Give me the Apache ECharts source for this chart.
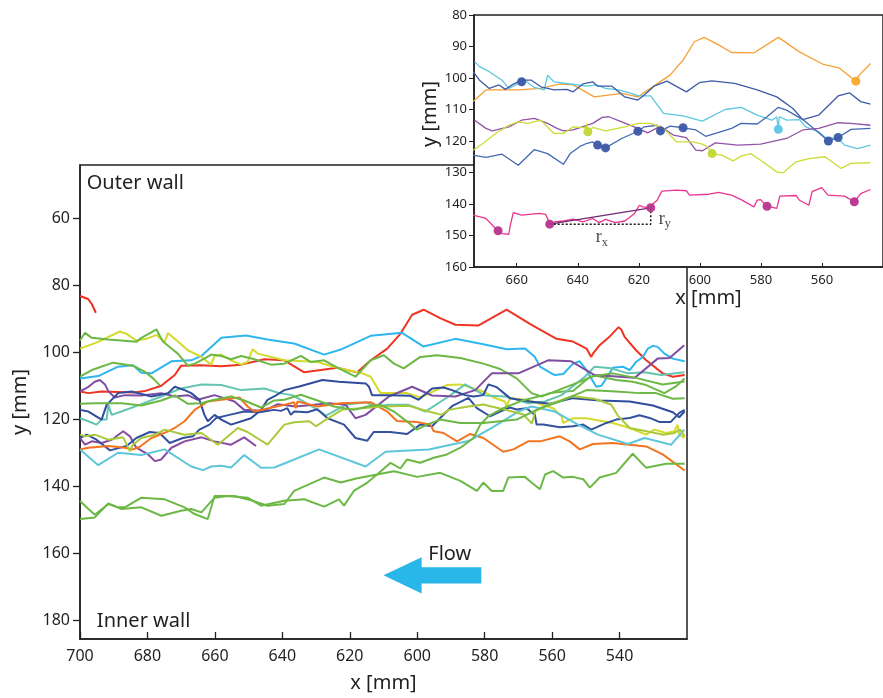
<!DOCTYPE html>
<html>
<head>
<meta charset="utf-8">
<script src="https://cdn.jsdelivr.net/npm/echarts@6/dist/echarts.min.js"></script>
<style>
  html, body { margin: 0; padding: 0; background: #fff; }
  #chart { width: 883px; height: 698px; }
</style>
</head>
<body>
<div id="chart"></div>
<script>
// ---- tick labels ----
const mainXTicks = [700, 680, 660, 640, 620, 600, 580, 560, 540];
const mainYTicks = [60, 80, 100, 120, 140, 160, 180];
const insetXTicks = [660, 640, 620, 600, 580, 560];
const insetYTicks = [80, 90, 100, 110, 120, 130, 140, 150, 160];

// ---- main panel: trajectories, [x mm, y mm] ----
const redShort = [[700,83.1],[697.6,84],[696.5,85.5],[695.3,88.1]];
const redLong = [[700,111.6],[697.5,112.1],[693.6,111.6],[683.8,111.9],[680.8,111.5],[675.9,109.9],[671.9,106.7],[670,103.9],[664,103.8],[658.1,104.1],[652.2,103.6],[645.3,102],[639.4,102.3],[633.5,105.9],[623.7,104.5],[617.8,105.9],[613.8,102.3],[608.9,98.8],[605,94.4],[601.5,88.7],[598.1,87.2],[593.2,89.7],[588.7,91.7],[581.8,91.9],[573.5,87.2],[566.6,91.4],[558.7,95.9],[553.8,96.7],[549.8,98.8],[548.4,101.3],[547.9,100.3],[545.9,97.8],[543,95.3],[540.3,92.4],[539.5,93.1],[538.5,95.3],[535.1,99.3],[532.1,102.3],[527.2,106.2],[524.2,107.2],[520.7,106.7]];
const skyBlue = [[700,107.7],[694.6,107],[688.7,104.2],[684.3,103.8],[681.8,106],[678.8,106.2],[672.9,102.6],[667,102.3],[664,101],[658.1,95.6],[650.8,94.9],[644.4,96.1],[636.5,97.3],[627.6,100.6],[622.7,99.1],[613.8,95],[604.5,94.1],[598.1,98.2],[588.7,95.9],[580.4,97.5],[573.5,99],[568,98.8],[565.1,101.3],[563.6,104.2],[560.7,105.9],[559.2,106.7],[556.7,106.4],[553.8,103.3],[551.8,102.6],[549.8,105.2],[548.4,107.7],[546.9,110.2],[545.4,109.9],[543.9,107.7],[542,104.5],[539,104.2],[537,105.2],[535.1,102.8],[533.1,101.3],[531.6,98.8],[530.1,98],[528.7,98.3],[526.7,100.3],[524.2,101.8],[520.7,102.6]];
const yellow = [[700,98.8],[694.6,96.8],[688.2,93.7],[686.2,94.4],[683.3,96.4],[680.3,95.9],[677.3,94.7],[676.4,95.6],[674.9,96.8],[673.9,94.2],[671.9,95.9],[668,99.3],[664,101.3],[661.1,103.6],[660.1,101],[658.1,100.6],[655.2,102.3],[652.2,103.6],[650.3,102.8],[648.8,99],[647.3,100.3],[639.4,102.3],[629.6,102.8],[623.2,104.7],[616.8,106],[613.8,107.2],[610.9,112.1],[603,112.1],[599.1,113.4],[591.2,109.7],[587.2,109.5],[580.4,111.6],[577.4,113.4],[574,114.6],[573.5,116.1],[572.5,113.6],[567.6,114.1],[559.7,116.6],[557.2,119],[556.7,121],[553.8,119.6],[549.8,119.6],[542,121],[537,122.5],[532.1,124.5],[529.7,123],[526.2,124],[523.7,123.5],[522.8,121.5],[522.3,124.5],[520.7,125.5]];
const greenUpper = [[700,96.4],[698.5,94.1],[696.5,95.6],[691.6,96.1],[683.3,96.8],[681.8,95.6],[677.3,93.1],[676.4,94.9],[675.4,96.7],[672.9,98.8],[671,100.3],[668,103.9],[666,103.3],[663.1,101.8],[661.1,100.6],[658.1,101],[655.2,102],[652.2,101],[648.3,102],[643.4,103.6],[639.4,103.3],[634.5,101],[631.6,102.8],[627.6,102.3],[623.7,104.5],[618.3,107.2],[613.8,102.3],[609.9,100.8],[606.9,103.3],[604,104.7],[599.1,101.3],[594.1,100.8],[587.2,101.6],[580.4,103.3],[575.4,104.9],[570.5,107.7],[566.1,112.1],[563.1,113.1],[560.7,112.1],[556.7,111.6],[553.8,111.5],[548.8,107.2],[546.9,106.9],[541,108.2],[536.1,108.7],[532.1,109.7],[526.7,112.1],[523.3,110.1],[520.7,107.7]];
const greenShort = [[700,107.2],[696.5,105.2],[690.2,103],[684.3,103.9],[680.8,105.7],[678.3,107.7],[676.4,109.7]];
const teal = [[700,119.6],[697.5,120.5],[695.1,121.5],[693.6,120],[692.1,120],[691.6,115.6],[690.6,118.6],[687.7,117.6],[681.8,115.4],[675.9,113.1],[670,110.7],[664,109.5],[658.1,109.7],[652.2,111.2],[645.3,110.7],[640.9,112.1],[637,112.7],[631.1,116.1],[627.1,118.8],[621.2,115.6],[615.3,114.8],[612.4,116.1],[608.4,115.6],[602.5,115.6],[597.6,117.6],[590.7,113.1],[585.8,109.5],[582.8,111.2],[579.9,112.8],[574,113.1],[572,113.6],[567.1,115.1],[562.2,114.6],[557.2,112.7],[550.3,107.2],[547.4,104.2],[542.5,104.7],[537.5,106.2],[532.6,105.9],[527.7,106.7],[520.8,105.9]];
const purpleUpper = [[700,111.6],[697.5,110.2],[695.6,108.7],[694.1,108.2],[692.6,109.5],[691.6,111.5],[689.7,113.4],[686.7,112.7],[681.8,112.8],[675.9,112.1],[671.9,113.1],[668,112.7],[665.1,114.1],[660.1,112.7],[654.2,114.6],[651.3,117.1],[645.3,117.4],[641.4,115.4],[636,116.1],[626.1,115.1],[621.2,115.6],[618.3,119.6],[615.3,118.6],[608.4,113.1],[601.5,110.2],[595.6,112.8],[588.7,113.1],[582.8,111.2],[577.9,106.2],[570,106.2],[561.2,102.3],[554.3,102.6],[547.4,106.7],[535.5,107.5],[528.7,101.8],[525.2,101.6],[520.8,97.8]];
const purpleLower = [[700,125.5],[698.5,127.5],[696.5,126.5],[693.6,127],[690.6,126],[687.2,123.5],[685.2,125],[683.3,128.4],[679.8,130.4],[677.8,132.4],[675.9,131.9],[672.9,128.4],[669,126.5],[664,125.3],[660.1,126.5],[655.2,127.5],[651.3,125.3],[647.8,127.9]];
const navyUpper = [[700,117.1],[697.5,117.6],[693.6,120],[692.1,115.6],[688.7,112.1],[684.7,111.6],[678.8,113.1],[673.9,112.1],[671.9,110.2],[669,111.2],[667,112.1],[664.6,114.1],[663.1,118.6],[662.1,120.5],[660.1,118.6],[658.1,120],[655.2,121.5],[649.3,119.6],[646.3,117.1],[644.4,114.1],[642.4,113.1],[639.4,111.2],[635,110.1],[628.1,108.2],[623.2,108.7],[615.3,109.2],[614.3,110.2],[613.4,112.7],[608.4,112.7],[602,112.9],[599.6,114.1],[595.6,110.7],[592.2,110.4],[589.7,111.2],[585.8,112.7],[583.3,113.1],[580.4,112.7],[578.9,109.5],[576.5,110.3],[572.5,113.6],[566.6,114.6],[560.7,115.3],[553.8,113.6],[545.9,114.3],[537,114.6],[530.1,115.8],[524.2,117.8],[522.3,119.3],[520.7,117.5]];
const navyLower = [[700,125.5],[698,124.5],[695.1,126],[691.1,129.2],[686.2,127.9],[683.3,125.5],[679.3,123.7],[676.4,124],[673.4,127],[669.5,125.5],[666.5,125],[664.6,123],[661.6,121.5],[659.6,119.5],[655.7,118.6],[651.3,117.6],[646.8,117.8],[642.4,117.1],[640.4,117.4],[638.5,116.6],[637.5,118.6],[636.5,117.6],[632.6,117.8],[629.6,116.9],[626.6,119.6],[621.7,121.5],[618.3,125.5],[614.8,126.3],[612.9,123.7],[608,123.7],[603,124.3],[599.1,121.5],[595.6,122],[589.7,116],[584.8,113.5],[582.3,116.6],[578.4,119],[575.4,117.6],[572.5,116.4],[570.5,117],[567.6,116.6],[565.1,118.6],[564.6,121.5],[562.6,121.5],[557.7,122.3],[553.8,122],[550.8,121.5],[548.4,123],[543.9,121],[541,120],[537,119.5],[534.1,118.7],[531.1,119.5],[528.2,120.7],[524.8,120.7],[522.3,118],[520.7,117.1]];
const orange = [[700,128.9],[697.5,128.4],[691.6,127.9],[686.7,128.4],[684.3,128.9],[682.3,128.1],[678.8,125.5],[673.9,123.5],[671.9,122.5],[669,120.5],[666,117.1],[662.1,114.6],[658.1,114.1],[652.7,113.4],[650.3,116.1],[648.3,117.6],[639.4,115.6],[636.5,114.8],[636,116.6],[635.5,114.6],[629.6,116.1],[622.7,115.1],[613.8,114.8],[608.9,117.6],[606,120.4],[600.1,120.7],[596.1,121.5],[595.1,123.5],[592.2,124],[588.2,126.5],[584.3,124.3],[580.4,125.5],[574.5,129.6],[571.5,128.9],[567.1,126.5],[563.6,126.5],[557.7,125],[554.8,126.5],[551.8,128.9],[547.9,127.3],[542,127],[532.1,128],[527.2,130.4],[520.7,135.2]];
const paleCyan = [[700,128.9],[694.6,133.6],[688.7,129.9],[681.8,130.6],[674.9,128.9],[667,134],[663.5,135.1],[661.1,134],[658.1,133.8],[655.2,134.3],[651.3,130.6],[646.3,134.4],[642.4,134.3],[639.4,133.1],[629.1,128.9],[615.3,134],[609.4,129.6],[596.6,128.9],[584.8,126.4],[577.9,122.5],[570,117.6],[566.1,116.1],[559.2,117.6],[552.3,121.5],[546.4,124.5],[537.5,127.3],[532.6,125.5],[524.7,127.5],[520.8,123]];
const lime = [[700,124.5],[698.5,125],[695.6,124.5],[691.6,126],[687.2,125.3],[685.2,129.4],[684.3,127.5],[681.8,125.5],[677.8,124.5],[674.9,123],[669,124.5],[664,124],[659.1,127.5],[653.2,122.5],[650.3,123.7],[644.4,127.5],[639.4,121.5],[636.5,120.8],[632,120.5],[630,122],[627.1,120],[622.2,117],[616.3,116.6],[610.4,116.1],[602.5,115.9],[596.6,117.6],[592.7,118.6],[590.7,117.1],[584.8,116.1],[580.4,115.5],[573,117.3],[568.5,118.5],[566,121.2],[565,117.5],[561,115.5],[554,113],[547.5,113.8],[542.5,115.5],[540.5,118.8],[537,122.5],[532,123.5],[527,124.5],[523.7,124],[522,123],[520.7,125]];
const greenMid = [[700,115.3],[695.6,115.1],[687.7,115.1],[681.8,115.8],[675.9,114.3],[671.9,112.8],[668,115.3],[664,115.1],[661.1,114.3],[655.2,113.1],[651.3,114.3],[646.3,116.4],[642.4,114.3],[639.4,114.1],[634.5,112.6],[629.6,114.3],[624.7,116.1],[618.8,117.1],[614.8,116.1],[610.9,115.6],[606.9,117.6],[603,120.6],[600.1,123],[597.1,121.5],[593.2,120],[587.2,121],[580.4,121],[570.5,120],[563.6,116.6],[557.7,114.6],[549.8,111.2],[541,111.6],[534.1,112.1],[529.2,112.1],[524.2,113.8],[520.7,113.6]];
const greenLowA = [[700,144.3],[697.5,146.7],[695.6,148.4],[691.6,145.2],[688.7,146.2],[686.7,146.2],[681.8,143.3],[674.9,143.8],[669,146.2],[666,148.2],[662.1,149.7],[660.1,142.8],[654.2,142.8],[649.3,144.1],[644.4,145.7],[639.4,145.2],[636.5,141.3],[627.6,137.3],[622.7,138.8],[617.8,137.5],[611.9,136.4],[606.9,135.4],[600,137.1],[593.2,135.9],[587.2,138.3],[582.3,141.3],[580.4,138.8],[577.9,141.3],[574.5,141.3],[573,137.3],[568.1,137.1],[566.1,138.8],[563.6,140.8],[562.1,136.4],[559.7,135.4],[556.7,137.3],[553.8,137.1],[550.8,137.8],[548.8,140.3],[545.9,137.3],[541,135.9],[536.1,130.2],[532.1,134.4],[526.2,133.2],[520.7,133.2]];
const greenLowB = [[700,149.7],[695.6,149.2],[691.6,145],[687.7,146.7],[681.8,146.2],[675.9,148.7],[670,147.2],[667,146.7],[664,147.7],[660.1,143.3],[656.2,142.8],[650.3,143.3],[646.3,145.7],[639.4,144.2],[633.5,143.8],[627.6,146],[623.2,143.8],[621.7,145.7],[618.8,141.3],[614.8,138.8],[611.9,136.4],[607.9,132.9],[605,134.6],[603,131.9],[599.1,132.9],[595.1,131.4],[591.2,130.4],[587.2,128.4],[583.3,125.5],[581.3,121.5],[578.9,119],[574.5,116.6],[568.5,114.2],[561.2,112.4],[553.8,109.5],[547.9,107.1],[542,106.2],[534.6,107.7],[527.2,109.5],[520.7,108.6]];

// ---- inset panel: trajectories and particle positions ----
const insetOrange = [[674.3,107.5],[670.1,103.8],[659.5,103.8],[652.1,103.3],[645.7,101.9],[641.5,102.2],[634.6,106],[625.6,104.9],[620.3,106],[615,102.5],[609.7,99],[605.5,94.3],[601.8,88.5],[598.6,87.1],[593.9,89.5],[589.6,91.9],[582.2,92],[574.3,87.1],[567.4,91.7],[559.5,95.7],[554.2,96.9],[548.9,101],[547.8,99.1],[544.1,95.4]];
const insetCyan = [[673.8,94.8],[672.2,96.4],[669,98],[664.8,100.7],[662.6,103.3],[661.6,102.8],[657.4,100.7],[654.2,103],[651,103.8],[649.9,99.1],[647.8,101.2],[642.5,101.9],[637.2,102.6],[634,102.2],[630.9,103.3],[626.7,103.8],[622.4,104.9],[620.3,105.7],[616.1,105.7],[611.9,111.2],[605.5,112],[599.2,113.7],[591.7,110],[586.5,109.3],[581.2,111.8],[576.4,113.4],[574.8,112.3],[574.3,116.3],[574,112.3],[571.6,113.4],[567.4,113.2],[565.3,115.5],[561.1,117.1],[558.9,118.9],[554.7,119.2],[552.6,121.3],[548.4,122.4],[544.1,121.3]];
const insetNavyA = [[674.3,98],[672.2,100.7],[669,103.3],[665.8,102.2],[663.7,103.6],[661.6,102.2],[658.4,100.7],[655.2,100.7],[652.1,102.8],[647.8,103.8],[643.6,103.6],[641.5,104.4],[638.3,101.9],[635.1,101.2],[633.5,102.6],[628.8,102.6],[624.6,106],[620.3,107],[618.2,105.4],[615,102.6],[610.8,101],[604.4,104.4],[600.2,101.5],[596,100.9],[588.6,101.7],[581.2,103.8],[574.8,106],[569.5,109.7],[566.3,113.2],[561.1,111.8],[554.7,105.7],[551,104.7],[547.3,107.5],[544.1,108.3]];
const insetNavyB = [[674.3,124.5],[670.1,125.2],[664.8,124.2],[659.5,127.7],[654.2,122.7],[649.9,124],[644.7,127.4],[642.5,124],[639.4,121.8],[637.2,120.8],[635.1,120.3],[633.5,121.3],[630.9,122.2],[625.6,119.2],[620.3,116.9],[618.2,115.5],[614,115],[612.9,116.8],[609.7,115.3],[605.5,115.8],[601.3,116.5],[598.1,118.5],[594.9,117.6],[589.6,116],[586.5,114.4],[581.2,114.6],[578,112.3],[574.3,109.3],[571.6,110.2],[566.3,113.2],[562.1,116.5],[557.9,120],[554.7,118.9],[550.5,116.3],[544.1,116]];
const insetPurple = [[673.8,113.4],[670.1,116],[668,116.8],[662.6,115.5],[658.4,113.4],[654.2,112.8],[649.9,114.4],[646.8,116],[644.7,116.8],[641.5,116.5],[635.1,114.4],[632,112.5],[629.8,112.3],[625.6,113.9],[620.3,116],[617.1,117.4],[612.9,115.3],[608.7,118.1],[604.4,118.9],[601.3,122.9],[599.2,123.1],[594.9,120.6],[587.5,121.3],[580.1,121],[571.6,119.2],[566.3,116.5],[561.1,116],[554.7,114.2],[550.5,114.4],[544.1,115]];
const insetYellow = [[674.3,122.9],[671.1,120.8],[666.9,117.6],[662.6,115],[659.5,113.9],[656.3,114.4],[652.1,113.4],[647.8,117.6],[644.7,117.6],[641.5,115.5],[637.2,115.8],[637,114.4],[636.7,117.1],[635.1,115.7],[630.9,116.8],[624.6,115.5],[620.3,114.4],[616.1,114.4],[611.9,116],[607.6,120.3],[602.3,120.3],[599.2,121],[597.6,121.8],[596,124],[592.8,124.5],[589.1,126.3],[586.5,124.8],[583.3,124],[580.1,126.1],[574.8,129.8],[572.7,130.1],[568.5,126.6],[564.3,125.6],[559,125],[553.7,128.7],[550.5,127.1],[544.1,126.9]];
const insetPink = [[674.3,143.5],[670.1,144.6],[667.4,147.3],[666.1,148.5],[664.8,149.4],[662.6,149.6],[662.1,146.7],[661.1,142.7],[658.4,143.5],[652.6,143],[650.5,143.3],[649.4,145.7],[649.2,146.4],[647.8,145.7],[644.7,145.4],[641.5,144.8],[638.3,145.7],[635.1,144.6],[633,145.9],[630.9,144.9],[627.7,145.9],[624.6,145.4],[621.4,143],[619.8,140.4],[618.7,140.9],[616.1,141.2],[615.5,140.1],[614,138.8],[612.9,136.7],[612.4,135.9],[607.6,135.6],[604.4,135.8],[603.4,137.2],[597,136.9],[593.9,136.3],[589.6,137.2],[586.5,138.6],[582.3,140.9],[581.2,138.8],[580.1,138.6],[578,140.7],[574.8,141.4],[573.8,137.5],[568.5,137.3],[567.4,138.8],[564.3,140.4],[563.2,136.1],[560.1,134.8],[558,137.2],[552.6,137.5],[549.4,139.3],[547.3,136.7],[544.1,135.4]];

const navyDots = [[658.4,101.2],[633.5,121.3],[630.9,122.2],[620.3,116.9],[612.9,116.8],[605.5,115.8],[557.9,120],[554.7,118.9]];
const yellowDots = [[636.7,117.1],[596,124]];
const cyanDots = [[574.3,116.3]];
const orangeDots = [[548.9,101]];
const pinkDots = [[666.1,148.5],[649.2,146.4],[616.1,141.2],[578,140.7],[549.4,139.3]];

// flow arrow, in main-panel mm
const flowArrow = { tail: 581, head: 610, neck: 598.7, y: 166.5, shaft: 2.4, barb: 5.4 };

const FONT = "'Noto Sans', 'Open Sans', sans-serif";
const AXIS_COLOR = '#231f20';

const chart = echarts.init(document.getElementById('chart'), null, { renderer: 'canvas' });

function trace(data, color, width, xi) {
  return {
    type: 'line', data: data, xAxisIndex: xi, yAxisIndex: xi,
    showSymbol: false, symbol: 'none', silent: true, animation: false,
    lineStyle: { color: color, width: width }, z: xi === 0 ? 2 : 12
  };
}
function dots(data, color) {
  return {
    type: 'scatter', data: data, xAxisIndex: 1, yAxisIndex: 1,
    symbolSize: 9, itemStyle: { color: color, opacity: 0.95 }, z: 14, silent: true, animation: false
  };
}

const mainTraces = [
  [redShort, '#ee2a24'], [redLong, '#ee3424'], [skyBlue, '#2db7ee'], [yellow, '#d3da2b'],
  [greenUpper, '#6cb845'], [greenShort, '#6cb845'], [teal, '#63c5b0'], [purpleUpper, '#7e4ea2'],
  [purpleLower, '#8a4aa0'], [navyUpper, '#2f4c9d'], [navyLower, '#34519f'], [orange, '#f4731f'],
  [paleCyan, '#5dc6db'], [lime, '#a9c93b'], [greenMid, '#6cb845'], [greenLowA, '#6cb845'], [greenLowB, '#6cb845']
];
const insetTraces = [
  [insetOrange, '#f7a035'], [insetCyan, '#5cc8e0'], [insetNavyA, '#3e5aa8'], [insetNavyB, '#4468b4'],
  [insetPurple, '#8f53a8'], [insetYellow, '#cddc35'], [insetPink, '#e9358f']
];

const series = [];
mainTraces.forEach(t => series.push(trace(t[0], t[1], 2, 0)));
insetTraces.forEach(t => series.push(trace(t[0], t[1], 1.3, 1)));

// displacement vector between two successive positions of one particle
const rStart = pinkDots[1], rEnd = pinkDots[2];
series.push({
  type: 'line', xAxisIndex: 1, yAxisIndex: 1, data: [rStart, rEnd], showSymbol: false, symbol: 'none',
  lineStyle: { color: '#6e2a6e', width: 1.3 }, z: 13, silent: true, animation: false
});
series.push({
  type: 'line', xAxisIndex: 1, yAxisIndex: 1, data: [rStart, [rEnd[0], rStart[1]], rEnd], showSymbol: false, symbol: 'none',
  lineStyle: { color: '#111', width: 1.5, type: [2, 2] }, z: 13, silent: true, animation: false
});
series.push(dots(navyDots, '#3c57a8'));
series.push(dots(yellowDots, '#c2d632'));
series.push(dots(cyanDots, '#5cc6e6'));
series.push(dots(orangeDots, '#f8a82e'));
series.push(dots(pinkDots, '#b8348f'));
// component labels r_x and r_y
series.push({
  type: 'scatter', xAxisIndex: 1, yAxisIndex: 1, symbolSize: 0, z: 15, silent: true, animation: false,
  data: [
    { value: [(rStart[0] + rEnd[0]) / 2 - 0.5, rStart[1] + 4.3], label: { formatter: '{r|r}{s|x}' } },
    { value: [rEnd[0] - 4.6, rStart[1] - 1.6], label: { formatter: '{r|r}{s|y}' } }
  ],
  label: {
    show: true, position: 'inside',
    rich: {
      r: { fontFamily: "'Liberation Serif', 'DejaVu Serif', serif", fontSize: 18, color: '#111' },
      s: { fontFamily: "'Liberation Serif', 'DejaVu Serif', serif", fontSize: 12, color: '#111', verticalAlign: 'bottom', padding: [10, 0, 0, 0] }
    }
  }
});

const option = {
  animation: false,
  backgroundColor: '#fff',
  grid: [
    { left: 80, top: 165, width: 607, height: 478.6, show: true, borderColor: AXIS_COLOR, borderWidth: 1.5, backgroundColor: 'transparent', z: 0 },
    { left: 474, top: 15, width: 422, height: 252, show: true, borderColor: AXIS_COLOR, borderWidth: 1.5, backgroundColor: '#fff', z: 10 }
  ],
  xAxis: [
    {
      gridIndex: 0, type: 'value', min: 520, max: 700, inverse: true,
      name: 'x [mm]', nameLocation: 'middle', nameGap: 34,
      nameTextStyle: { fontFamily: FONT, fontSize: 20, color: AXIS_COLOR },
      axisLine: { show: true, lineStyle: { color: AXIS_COLOR, width: 1.5 } },
      axisTick: { show: true, inside: true, length: 7, customValues: mainXTicks, lineStyle: { color: AXIS_COLOR, width: 1.3 } },
      axisLabel: { customValues: mainXTicks, fontFamily: FONT, fontSize: 16, color: AXIS_COLOR, margin: 9 },
      splitLine: { show: false }
    },
    {
      gridIndex: 1, type: 'value', min: 540, max: 674, inverse: true,
      name: 'x [mm]', nameLocation: 'middle', nameGap: 2,
      nameTextStyle: { fontFamily: FONT, fontSize: 20, color: AXIS_COLOR, padding: [0, 0, 0, 60] },
      axisLine: { show: true, lineStyle: { color: AXIS_COLOR, width: 1.5 } },
      axisTick: { show: true, inside: true, length: 4, customValues: insetXTicks, lineStyle: { color: AXIS_COLOR } },
      axisLabel: { customValues: insetXTicks, fontFamily: FONT, fontSize: 13, color: AXIS_COLOR, margin: 7 },
      splitLine: { show: false }, z: 11
    }
  ],
  yAxis: [
    {
      gridIndex: 0, type: 'value', min: 44, max: 185.5, inverse: true,
      name: 'y [mm]', nameLocation: 'middle', nameGap: 50, nameRotate: 90,
      nameTextStyle: { fontFamily: FONT, fontSize: 20, color: AXIS_COLOR },
      axisLine: { show: true, lineStyle: { color: AXIS_COLOR, width: 1.5 } },
      axisTick: { show: true, inside: false, length: 7, customValues: mainYTicks, lineStyle: { color: AXIS_COLOR, width: 1.3 } },
      axisLabel: { customValues: mainYTicks, fontFamily: FONT, fontSize: 16, color: AXIS_COLOR, margin: 10 },
      splitLine: { show: false }
    },
    {
      gridIndex: 1, type: 'value', min: 80, max: 160, interval: 10, inverse: true,
      name: 'y [mm]', nameLocation: 'middle', nameGap: 32, nameRotate: 90,
      nameTextStyle: { fontFamily: FONT, fontSize: 20, color: AXIS_COLOR, padding: [0, 0, 0, 54] },
      axisLine: { show: true, lineStyle: { color: AXIS_COLOR, width: 1.5 } },
      axisTick: { show: true, inside: false, length: 5, lineStyle: { color: AXIS_COLOR } },
      axisLabel: { fontFamily: FONT, fontSize: 13, color: AXIS_COLOR, margin: 7 },
      splitLine: { show: false }, z: 11
    }
  ],
  series: series
};

chart.setOption(option);

// annotation text and the flow arrow, placed through the main panel's scales
const px = (x, y) => chart.convertToPixel({ gridIndex: 0 }, [x, y]);
const a = flowArrow;
const pts = [
  px(a.tail, a.y - a.shaft), px(a.neck, a.y - a.shaft), px(a.neck, a.y - a.barb),
  px(a.head, a.y), px(a.neck, a.y + a.barb), px(a.neck, a.y + a.shaft), px(a.tail, a.y + a.shaft)
];
const flowLabel = px((a.tail + a.neck) / 2 + 0.5, 160.3);
const outer = px(698, 49.6);
const inner = px(695, 180.2);

chart.setOption({
  graphic: [
    { type: 'polygon', shape: { points: pts }, style: { fill: '#29b6e8' }, z: 20, silent: true },
    { type: 'text', x: flowLabel[0], y: flowLabel[1], style: { text: 'Flow', font: '20px ' + FONT, fill: AXIS_COLOR, textAlign: 'center', textVerticalAlign: 'middle' }, z: 20 },
    { type: 'text', x: outer[0], y: outer[1], style: { text: 'Outer wall', font: '20px ' + FONT, fill: AXIS_COLOR, textAlign: 'left', textVerticalAlign: 'middle' }, z: 20 },
    { type: 'text', x: inner[0], y: inner[1], style: { text: 'Inner wall', font: '20px ' + FONT, fill: AXIS_COLOR, textAlign: 'left', textVerticalAlign: 'middle' }, z: 20 }
  ]
});
</script>
</body>
</html>
